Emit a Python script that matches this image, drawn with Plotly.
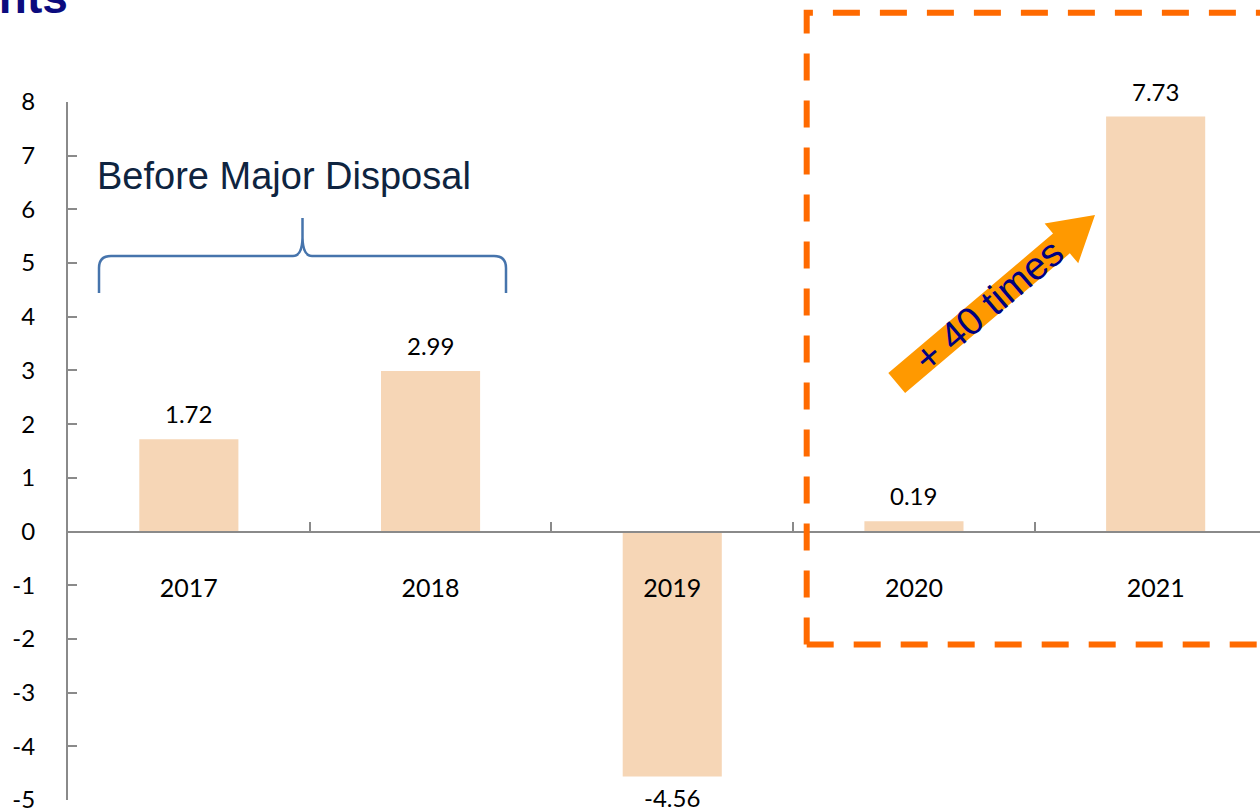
import math
import plotly.graph_objects as go

# Figures per year
years = ["2017", "2018", "2019", "2020", "2021"]
values = [1.72, 2.99, -4.56, 0.19, 7.73]
y_ticks = list(range(-5, 9))

title_text = "Cents"
bracket_label = "Before Major Disposal"
arrow_label = "+ 40 times"

# Canvas and plot-area geometry (pixels)
W, H = 1260, 811
ML, MR, MT, MB = 68, 0, 102, 11
PW, PH = W - ML - MR, H - MT - MB
CAT_PX = 241.7  # width of one category slot

Y_MIN, Y_MAX = min(y_ticks), max(y_ticks)


def fx(x):
    """pixel x -> paper x"""
    return (x - ML) / PW


def fy(y):
    """pixel y -> paper y"""
    return (H - MB - y) / PH


def path(points):
    return "M " + " L ".join(f"{fx(x):.5f},{fy(y):.5f}" for x, y in points) + " Z"


BAR = "#F6D6B6"
AXIS = "#8A8A8A"
DASH = "#FF6A00"
ARROW = "#FF9900"
NAVY = "#000080"
NUM_FONT = "Lato"

fig = go.Figure()
fig.add_trace(go.Bar(
    x=years, y=values, width=0.41,
    marker=dict(color=BAR, line=dict(width=0)),
    hoverinfo="skip", showlegend=False,
))

# value labels (category axis -> positional index)
annotations = []
for i, v in enumerate(values):
    pos = v >= 0
    annotations.append(dict(
        x=i, y=v, xref="x", yref="y", text=f"{v:.2f}", showarrow=False,
        yanchor="bottom" if pos else "top", yshift=9 if pos else -5,
        font=dict(family=NUM_FONT, size=24, color="#000000"),
    ))

# partial heading at the top-left corner
annotations.append(dict(
    x=fx(70), y=fy(-3), xref="paper", yref="paper", text=f"<b>{title_text}</b>",
    showarrow=False, xanchor="right", yanchor="middle",
    font=dict(family="Liberation Sans, Arial", size=46, color="#0B0B7E"),
))

# bracket caption
annotations.append(dict(
    x=fx(95), y=fy(176), xref="paper", yref="paper", text=bracket_label,
    showarrow=False, xanchor="left", yanchor="middle",
    font=dict(family="Liberation Sans, Arial", size=38, color="#0E2440"),
))

# growth arrow geometry
tail = (896.7, 383.0)
tip = (1095.0, 215.0)
dx, dy = tip[0] - tail[0], tip[1] - tail[1]
L = (dx * dx + dy * dy) ** 0.5
ux, uy = dx / L, dy / L
nx, ny = -uy, ux
shaft_hw, head_hw, head_len = 13.0, 26.0, 44.0
bx, by = tip[0] - ux * head_len, tip[1] - uy * head_len
arrow_pts = [
    (tail[0] + nx * shaft_hw, tail[1] + ny * shaft_hw),
    (bx + nx * shaft_hw, by + ny * shaft_hw),
    (bx + nx * head_hw, by + ny * head_hw),
    tip,
    (bx - nx * head_hw, by - ny * head_hw),
    (bx - nx * shaft_hw, by - ny * shaft_hw),
    (tail[0] - nx * shaft_hw, tail[1] - ny * shaft_hw),
]
cx, cy = tail[0] + ux * 120, tail[1] + uy * 120
angle = math.degrees(math.atan2(dy, dx))

annotations.append(dict(
    x=fx(cx), y=fy(cy), xref="paper", yref="paper", text=arrow_label,
    showarrow=False, xanchor="center", yanchor="middle", textangle=angle,
    font=dict(family="Liberation Sans, Arial", size=39, color=NAVY),
))

shapes = []
# curly bracket over the first two years
brace = (
    f"M {fx(99):.5f},{fy(293):.5f} L {fx(99):.5f},{fy(268):.5f} "
    f"Q {fx(99):.5f},{fy(256):.5f} {fx(111):.5f},{fy(256):.5f} "
    f"L {fx(293):.5f},{fy(256):.5f} "
    f"Q {fx(302):.5f},{fy(256):.5f} {fx(302.5):.5f},{fy(238):.5f} "
    f"L {fx(302.5):.5f},{fy(218):.5f} "
    f"M {fx(302.5):.5f},{fy(238):.5f} "
    f"Q {fx(303):.5f},{fy(256):.5f} {fx(312):.5f},{fy(256):.5f} "
    f"L {fx(494):.5f},{fy(256):.5f} "
    f"Q {fx(506):.5f},{fy(256):.5f} {fx(506):.5f},{fy(268):.5f} "
    f"L {fx(506):.5f},{fy(293):.5f}"
)
shapes.append(dict(type="path", path=brace, xref="paper", yref="paper",
                   line=dict(color="#4674AC", width=2.5), layer="above"))

# dashed highlight frame
left, top, bottom, right = 806.7, 12.7, 644.5, 1300
shapes.append(dict(
    type="path", xref="paper", yref="paper", layer="above",
    path=f"M {fx(left):.5f},{fy(bottom):.5f} L {fx(left):.5f},{fy(top):.5f} L {fx(right):.5f},{fy(top):.5f}",
    line=dict(color=DASH, width=6, dash="27px,20px"),
))
shapes.append(dict(
    type="path", xref="paper", yref="paper", layer="above",
    path=f"M {fx(left):.5f},{fy(bottom):.5f} L {fx(right):.5f},{fy(bottom):.5f}",
    line=dict(color=DASH, width=6, dash="27px,20px"),
))

# arrow body
shapes.append(dict(type="path", path=path(arrow_pts), xref="paper", yref="paper",
                   fillcolor=ARROW, line=dict(width=0), layer="above"))

fig.update_layout(
    width=W, height=H,
    margin=dict(l=ML, r=MR, t=MT, b=MB, pad=0, autoexpand=False),
    paper_bgcolor="white", plot_bgcolor="white",
    annotations=annotations,
    shapes=shapes,
    xaxis=dict(
        type="category", range=[-0.5, -0.5 + PW / CAT_PX],
        anchor="free", position=(0 - Y_MIN) / (Y_MAX - Y_MIN),
        showline=True, linecolor=AXIS, linewidth=2,
        ticks="inside", tickson="boundaries", ticklen=9, tickwidth=1.5, tickcolor=AXIS,
        showgrid=False, zeroline=False,
        ticklabelstandoff=34,
        tickfont=dict(family=NUM_FONT, size=25, color="#000000"),
        fixedrange=True,
    ),
    yaxis=dict(
        range=[Y_MIN, Y_MAX], tickvals=y_ticks,
        ticktext=[str(t) for t in y_ticks],
        showline=True, linecolor=AXIS, linewidth=2,
        ticks="inside", ticklen=9, tickwidth=1.5, tickcolor=AXIS,
        showgrid=False, zeroline=False,
        ticklabelstandoff=26, ticklabeloverflow="allow",
        tickfont=dict(family=NUM_FONT, size=24, color="#000000"),
        fixedrange=True,
    ),
)

fig.write_html("out.html")
